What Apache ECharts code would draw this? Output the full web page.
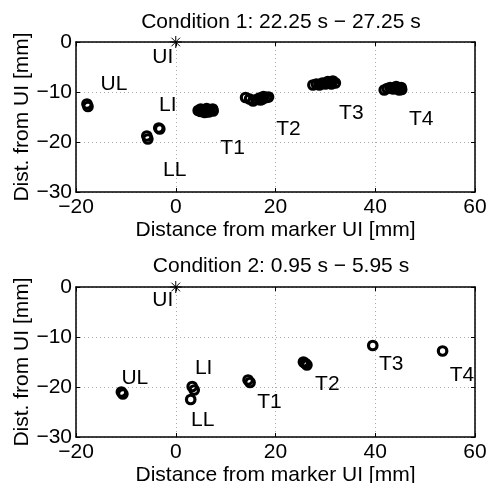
<!DOCTYPE html>
<html>
<head>
<meta charset="utf-8">
<script src="https://cdn.jsdelivr.net/npm/echarts@6/dist/echarts.min.js"></script>
<style>html,body{margin:0;padding:0;background:#fff}#c{width:489px;height:483px}</style>
</head>
<body>
<div id="c"></div>
<script>
// ---------- data ----------
const titles = ['Condition 1: 22.25 s \u2212 27.25 s', 'Condition 2: 0.95 s \u2212 5.95 s'];
const xAxisName = 'Distance from marker UI [mm]';
const yAxisName = 'Dist. from UI [mm]';
const xTicks = [-20, 0, 20, 40, 60];
const yTicks = [-30, -20, -10, 0];
const origin = [0, 0];

// Condition 1 marker positions [x, y] in mm
const c1_UL = [[-17.8, -12.4], [-17.6, -12.9]];
const c1_LL = [[-5.8, -18.8], [-5.6, -19.4]];
const c1_LI = [[-3.4, -17.2], [-3.2, -17.4]];
const c1_T1 = [[4.5, -13.7], [5.0, -13.9], [5.0, -13.4], [5.6, -13.6], [6.2, -13.9], [6.2, -13.3], [6.8, -13.6], [7.4, -13.4], [7.5, -13.8], [5.8, -14.1], [6.6, -14.0]];
const c1_T2 = [[14.0, -11.1], [14.8, -11.4], [15.5, -11.8], [16.2, -11.5], [16.8, -11.2], [17.4, -11.4], [17.6, -10.9], [18.2, -11.1], [18.6, -11.0], [17.0, -11.6]];
const c1_T3 = [[27.5, -8.6], [28.2, -8.4], [28.8, -8.6], [29.4, -8.2], [30.0, -8.4], [30.5, -7.9], [31.0, -8.2], [31.5, -7.8], [32.0, -8.2], [31.2, -8.4]];
const c1_T4 = [[41.8, -9.6], [42.4, -9.3], [43.0, -9.1], [43.6, -9.4], [44.2, -8.9], [44.6, -9.3], [45.2, -9.1], [45.3, -9.5], [44.8, -9.6]];

// Condition 2 marker positions
const c2_UL = [[-10.9, -21.0], [-10.6, -21.4]];
const c2_LI = [[3.3, -19.9], [3.7, -20.6]];
const c2_LL = [[3.0, -22.5]];
const c2_T1 = [[14.5, -18.6], [14.9, -19.1]];
const c2_T2 = [[25.6, -15.0], [26.0, -15.3], [26.3, -15.6]];
const c2_T3 = [[39.5, -11.7]];
const c2_T4 = [[53.5, -12.8]];

// text labels [x, y] (label centre, mm)
const labelNames = ['UI', 'UL', 'LI', 'LL', 'T1', 'T2', 'T3', 'T4'];
const labelPos1 = [[-2.6, -3.0], [-12.4, -8.4], [-1.6, -12.6], [-0.2, -25.6], [11.4, -21.2], [22.6, -17.4], [35.2, -14.2], [49.2, -15.4]];
const labelPos2 = [[-2.6, -2.6], [-8.2, -18.2], [5.6, -16.2], [5.4, -26.6], [18.8, -23.0], [30.4, -19.4], [43.2, -15.4], [57.4, -17.6]];

// ---------- chart ----------
const FONT = 'Liberation Sans';
const FS = 21;
const fmt = v => String(v).replace('-', '\u2212');

const grids = [
  {left: 76, width: 399, top: 42, height: 150, outerBoundsMode: 'none', containLabel: false},
  {left: 76, width: 399, top: 287, height: 150, outerBoundsMode: 'none', containLabel: false}
];

const xAxes = [], yAxes = [];
grids.forEach((g, i) => {
  xAxes.push({
    type: 'value', gridIndex: i, min: xTicks[0], max: xTicks[xTicks.length - 1], interval: 20,
    position: 'bottom',
    name: xAxisName, nameLocation: 'middle', nameGap: 28, nameMoveOverlap: false,
    nameTextStyle: {fontFamily: FONT, fontSize: FS, color: '#000'},
    axisLine: {show: true, onZero: false, lineStyle: {color: '#000', width: 1.5}},
    axisTick: {show: true, inside: true, length: 4, lineStyle: {color: '#000'}},
    axisLabel: {fontFamily: FONT, fontSize: FS, color: '#000', margin: 5, formatter: fmt, showMinLabel: true, showMaxLabel: true, hideOverlap: false},
    splitLine: {show: true, lineStyle: {color: '#aaa', type: [1, 3], width: 1}}
  });
  xAxes.push({
    type: 'value', gridIndex: i, min: xTicks[0], max: xTicks[xTicks.length - 1], interval: 20,
    position: 'top',
    axisLine: {show: true, onZero: false, lineStyle: {color: '#000', width: 1.5}},
    axisTick: {show: true, inside: true, length: 4, lineStyle: {color: '#000'}},
    axisLabel: {show: false}, splitLine: {show: false}
  });
  yAxes.push({
    type: 'value', gridIndex: i, min: yTicks[0], max: yTicks[yTicks.length - 1], interval: 10,
    position: 'left',
    name: yAxisName, nameLocation: 'middle', nameGap: 43, nameRotate: 90, nameMoveOverlap: false,
    nameTextStyle: {fontFamily: FONT, fontSize: FS, color: '#000'},
    axisLine: {show: true, onZero: false, lineStyle: {color: '#000', width: 1.5}},
    axisTick: {show: true, inside: true, length: 4, lineStyle: {color: '#000'}},
    axisLabel: {fontFamily: FONT, fontSize: FS, color: '#000', margin: 4, formatter: fmt, showMinLabel: true, showMaxLabel: true, hideOverlap: false},
    splitLine: {show: true, lineStyle: {color: '#aaa', type: [1, 3], width: 1}}
  });
  yAxes.push({
    type: 'value', gridIndex: i, min: yTicks[0], max: yTicks[yTicks.length - 1], interval: 10,
    position: 'right',
    axisLine: {show: true, onZero: false, lineStyle: {color: '#000', width: 1.5}},
    axisTick: {show: true, inside: true, length: 4, lineStyle: {color: '#000'}},
    axisLabel: {show: false}, splitLine: {show: false}
  });
});

const circleSeries = (data, gi) => ({
  type: 'scatter', xAxisIndex: gi * 2, yAxisIndex: gi * 2, data: data,
  symbol: 'circle', symbolSize: 8.5,
  itemStyle: {color: 'rgba(255,255,255,0)', borderColor: '#000', borderWidth: 3.2, opacity: 1},
  emphasis: {disabled: true}, silent: true, z: 3
});

const starPath = 'path://M0,-6L0,6M-6,0L6,0M-4.3,-4.3L4.3,4.3M-4.3,4.3L4.3,-4.3';
const starSeries = gi => ({
  type: 'scatter', xAxisIndex: gi * 2, yAxisIndex: gi * 2, data: [origin],
  symbol: starPath, symbolSize: 12,
  itemStyle: {color: 'none', borderColor: '#000', borderWidth: 1, opacity: 1},
  silent: true, z: 5
});

const labelSeries = (pos, gi) => ({
  type: 'scatter', xAxisIndex: gi * 2, yAxisIndex: gi * 2,
  data: pos.map((p, k) => ({name: labelNames[k], value: p})),
  symbolSize: 0,
  itemStyle: {opacity: 1},
  label: {show: true, position: 'inside', formatter: '{b}', fontFamily: FONT, fontSize: FS, color: '#000', opacity: 1},
  silent: true, z: 6
});

const series = [];
[c1_UL, c1_LL, c1_LI, c1_T1, c1_T2, c1_T3, c1_T4].forEach(d => series.push(circleSeries(d, 0)));
[c2_UL, c2_LI, c2_LL, c2_T1, c2_T2, c2_T3, c2_T4].forEach(d => series.push(circleSeries(d, 1)));
series.push(starSeries(0), starSeries(1));
series.push(labelSeries(labelPos1, 0), labelSeries(labelPos2, 1));

const chart = echarts.init(document.getElementById('c'), null, {renderer: 'canvas'});
chart.setOption({
  animation: false,
  backgroundColor: '#fff',
  title: titles.map((t, i) => ({
    text: t, left: 276, top: i === 0 ? 7 : 251, textAlign: 'center',
    textStyle: {fontFamily: FONT, fontSize: FS, fontWeight: 'normal', color: '#000'}
  })),
  grid: grids,
  xAxis: xAxes,
  yAxis: yAxes,
  series: series
});
</script>
</body>
</html>
